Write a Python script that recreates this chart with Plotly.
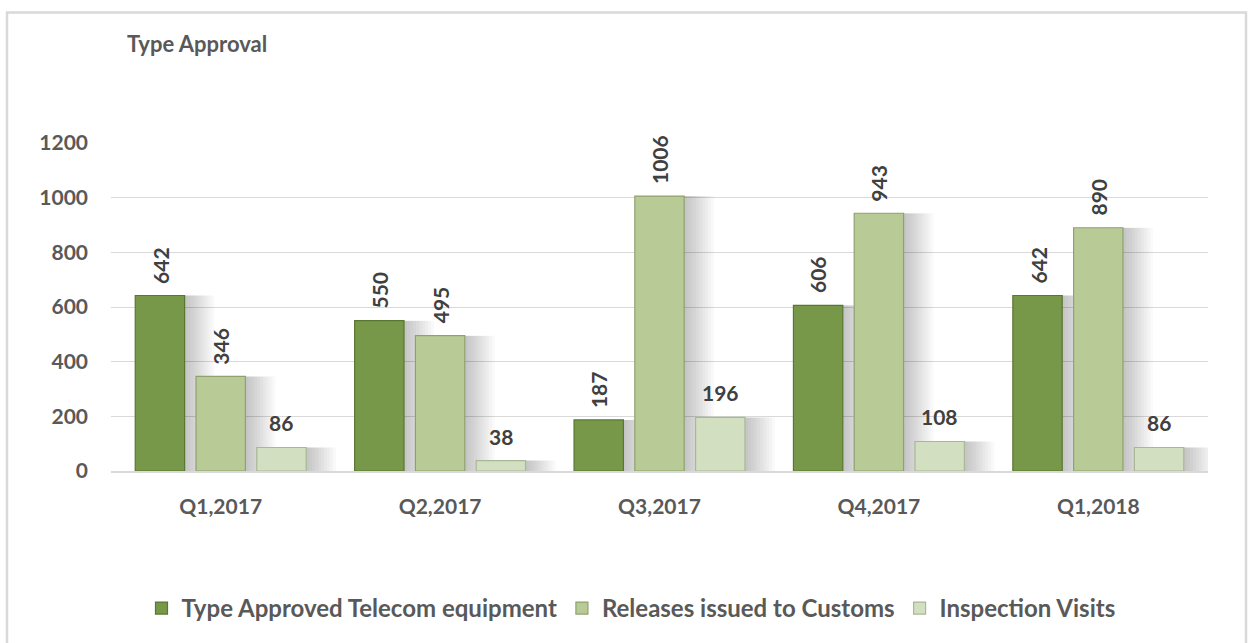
import plotly.graph_objects as go

# Quarterly type-approval figures
quarters = ["Q1,2017", "Q2,2017", "Q3,2017", "Q4,2017", "Q1,2018"]
type_approved = [642, 550, 187, 606, 642]
releases_customs = [346, 495, 1006, 943, 890]
inspection_visits = [86, 38, 196, 108, 86]
y_ticks = [0, 200, 400, 600, 800, 1000, 1200]

W, H = 1250, 643
L, R, T, B = 111, 42, 143, 166
FONT = "Lato, 'Open Sans', sans-serif"
LABEL_GREY = "#595959"
VALUE_GREY = "#404040"

CAT_PX = (W - L - R) / len(quarters)   # pixels per category
BAR_W = 0.225                          # bar width, in category units
BAR_STEP = 0.277                       # distance between bars of one group
FIRST_OFF = -0.3895                    # left edge of first bar in each group


def px_x(px):
    return (px - L) / (W - L - R)


def px_y(py):
    return (H - B - py) / (H - T - B)


series = [
    ("Type Approved Telecom equipment", type_approved, "#789849", "#5a7632", -90),
    ("Releases issued to Customs", releases_customs, "#b8cb97", "#8ea26e", -90),
    ("Inspection Visits", inspection_visits, "#d3dfc1", "#a9b797", 0),
]

fig = go.Figure()

# soft drop shadows to the right of each bar, built from faint stacked layers
shadow_steps = [3 * k for k in range(1, 11)]
for i, (name, vals, fill, edge, angle) in enumerate(series):
    off = FIRST_OFF + i * BAR_STEP
    for shift_px in shadow_steps:
        fig.add_trace(go.Bar(
            x=quarters,
            y=vals,
            width=BAR_W,
            offset=off + shift_px / CAT_PX,
            marker=dict(color="rgba(0,0,0,0.022)", line=dict(width=0)),
            showlegend=False,
            hoverinfo="skip",
        ))

annotations = []
for i, (name, vals, fill, edge, angle) in enumerate(series):
    off = FIRST_OFF + i * BAR_STEP
    fig.add_trace(go.Bar(
        name=name,
        x=quarters,
        y=vals,
        width=BAR_W,
        offset=off,
        marker=dict(color=fill, line=dict(color=edge, width=1.2)),
    ))
    for j, v in enumerate(vals):
        annotations.append(dict(
            x=j + off + BAR_W / 2,
            y=v,
            xref="x", yref="y",
            text=str(v),
            textangle=angle,
            xanchor="center",
            yanchor="bottom",
            yshift=10,
            showarrow=False,
            font=dict(family=FONT, size=21, color=VALUE_GREY, weight="bold"),
        ))

annotations.append(dict(
    text="Type Approval",
    xref="paper", yref="paper",
    x=px_x(197), y=px_y(42),
    xanchor="center", yanchor="middle",
    showarrow=False,
    font=dict(family=FONT, size=22, color=LABEL_GREY, weight="bold"),
))

fig.update_layout(
    width=W,
    height=H,
    margin=dict(l=L, r=R, t=T, b=B, pad=0),
    paper_bgcolor="white",
    plot_bgcolor="white",
    barmode="overlay",
    font=dict(family=FONT, color=LABEL_GREY),
    showlegend=True,
    legend=dict(
        orientation="h",
        x=px_x(631),
        xanchor="center",
        y=px_y(617),
        yanchor="middle",
        font=dict(family=FONT, size=24, color=LABEL_GREY, weight="bold"),
        itemwidth=30,
        traceorder="normal",
    ),
    xaxis=dict(
        type="category",
        range=[-0.5, len(quarters) - 0.5],
        showgrid=False,
        showline=True,
        linecolor="#d9d9d9",
        linewidth=1.5,
        ticks="",
        ticklabelstandoff=16,
        tickfont=dict(family=FONT, size=21, color=LABEL_GREY, weight="bold"),
    ),
    yaxis=dict(
        range=[0, 1200],
        tickvals=y_ticks,
        showgrid=True,
        gridcolor="#d9d9d9",
        gridwidth=1.2,
        zeroline=False,
        showline=False,
        ticks="",
        ticklabelstandoff=22,
        tickfont=dict(family=FONT, size=21, color=LABEL_GREY, weight="bold"),
    ),
    annotations=annotations,
    shapes=[
        dict(
            type="rect",
            xref="paper", yref="paper",
            x0=px_x(7), x1=px_x(1246),
            y0=px_y(655), y1=px_y(10),
            line=dict(color="#d9d9d9", width=2.5),
            fillcolor="rgba(0,0,0,0)",
            layer="below",
        )
    ],
)

fig.write_html("out.html")
